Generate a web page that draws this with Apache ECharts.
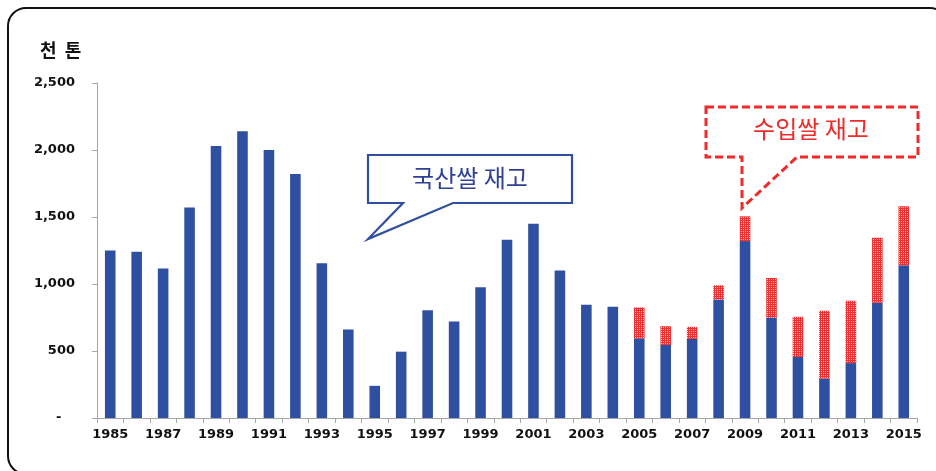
<!DOCTYPE html>
<html>
<head>
<meta charset="utf-8">
<script src="https://cdn.jsdelivr.net/npm/echarts@6/dist/echarts.min.js"></script>
<style>
  html, body { margin: 0; padding: 0; background: #fff; }
  #chart { width: 936px; height: 471px; }
</style>
</head>
<body>
<div id="chart"></div>
<script>
// Rice stocks by year, thousand tonnes
const years = ['1985','1986','1987','1988','1989','1990','1991','1992','1993','1994',
  '1995','1996','1997','1998','1999','2000','2001','2002','2003','2004',
  '2005','2006','2007','2008','2009','2010','2011','2012','2013','2014','2015'];
// domestic rice stock
const domesticStock = [1250, 1240, 1115, 1570, 2030, 2140, 2000, 1820, 1155, 660,
  240, 495, 805, 720, 975, 1330, 1450, 1100, 845, 830,
  595, 545, 590, 885, 1320, 750, 455, 295, 410, 860, 1140];
// imported rice stock (none before 2005)
const importedStock = [0, 0, 0, 0, 0, 0, 0, 0, 0, 0,
  0, 0, 0, 0, 0, 0, 0, 0, 0, 0,
  230, 140, 90, 105, 185, 295, 300, 505, 465, 485, 440];
const yTicks = [0, 500, 1000, 1500, 2000, 2500];

const BLUE = '#2F4FA0';
const RED = '#EE2A2A';

// speckled red fill for imported stock
function dotPattern() {
  const c = document.createElement('canvas');
  c.width = 2; c.height = 2;
  const g = c.getContext('2d');
  g.fillStyle = '#F03030';
  g.fillRect(0, 0, 2, 2);
  g.fillStyle = '#FFD0D0';
  g.fillRect(1, 1, 1, 1);
  return c;
}

const chart = echarts.init(document.getElementById('chart'), null, { renderer: 'canvas' });

const labelFont = { fontFamily: 'DejaVu Sans', fontWeight: 'bold', fontSize: 13, color: '#111' };

chart.setOption({
  animation: false,
  backgroundColor: '#fff',
  grid: { left: 97, right: 19, top: 83, bottom: 53, containLabel: false },
  xAxis: {
    type: 'category',
    data: years,
    boundaryGap: true,
    axisLine: { lineStyle: { color: '#A6A6A6', width: 1 } },
    axisTick: { show: true, alignWithLabel: false, interval: 0, length: 5, lineStyle: { color: '#A6A6A6' } },
    axisLabel: Object.assign({ interval: 1, margin: 10 }, labelFont)
  },
  yAxis: {
    type: 'value',
    min: yTicks[0],
    max: yTicks[yTicks.length - 1],
    interval: 500,
    axisLine: { show: true, lineStyle: { color: '#A6A6A6', width: 1 } },
    axisTick: { show: true, length: 5, lineStyle: { color: '#A6A6A6' } },
    splitLine: { show: false },
    axisLabel: Object.assign({
      margin: 22,
      formatter: function (v) {
        // accounting-style dash for zero
        if (v === 0) return '-   ';
        return v.toLocaleString('en-US');
      }
    }, labelFont)
  },
  series: [
    {
      name: '국산쌀 재고',
      type: 'bar',
      stack: 'stock',
      barWidth: '40%',
      itemStyle: { color: BLUE },
      data: domesticStock
    },
    {
      name: '수입쌀 재고',
      type: 'bar',
      stack: 'stock',
      barWidth: '40%',
      itemStyle: { color: { image: dotPattern(), repeat: 'repeat' } },
      data: importedStock.map(v => v === 0 ? null : v)
    }
  ],
  graphic: [
    // outer rounded frame
    {
      type: 'rect', silent: true, z: 0,
      shape: { x: 8, y: 8, width: 940, height: 466, r: 18 },
      style: { fill: null, stroke: '#111', lineWidth: 2 }
    },
    // unit label
    {
      type: 'text', x: 40, y: 50,
      style: { text: '천  톤', font: 'bold 18px "Noto Sans CJK KR"', fill: '#111', verticalAlign: 'middle' }
    },
    // domestic stock callout
    {
      type: 'polygon', z: 10,
      shape: { points: [[368, 155], [572, 155], [572, 203], [453, 203], [368, 239], [403, 203], [368, 203]] },
      style: { fill: '#fff', stroke: BLUE, lineWidth: 2.2 }
    },
    {
      type: 'text', z: 11, x: 470, y: 178,
      style: { text: '국산쌀 재고', font: '24px "Noto Sans CJK KR"', fill: '#2E3F96', align: 'center', verticalAlign: 'middle' }
    },
    // imported stock callout
    {
      type: 'polygon', z: 10,
      shape: { points: [[706, 107], [918, 107], [918, 157], [797, 157], [742, 208], [742, 157], [706, 157]] },
      style: { fill: '#fff', stroke: RED, lineWidth: 3, lineDash: [8, 4] }
    },
    {
      type: 'text', z: 11, x: 811, y: 129,
      style: { text: '수입쌀 재고', font: '24px "Noto Sans CJK KR"', fill: RED, align: 'center', verticalAlign: 'middle' }
    }
  ]
});
</script>
</body>
</html>
